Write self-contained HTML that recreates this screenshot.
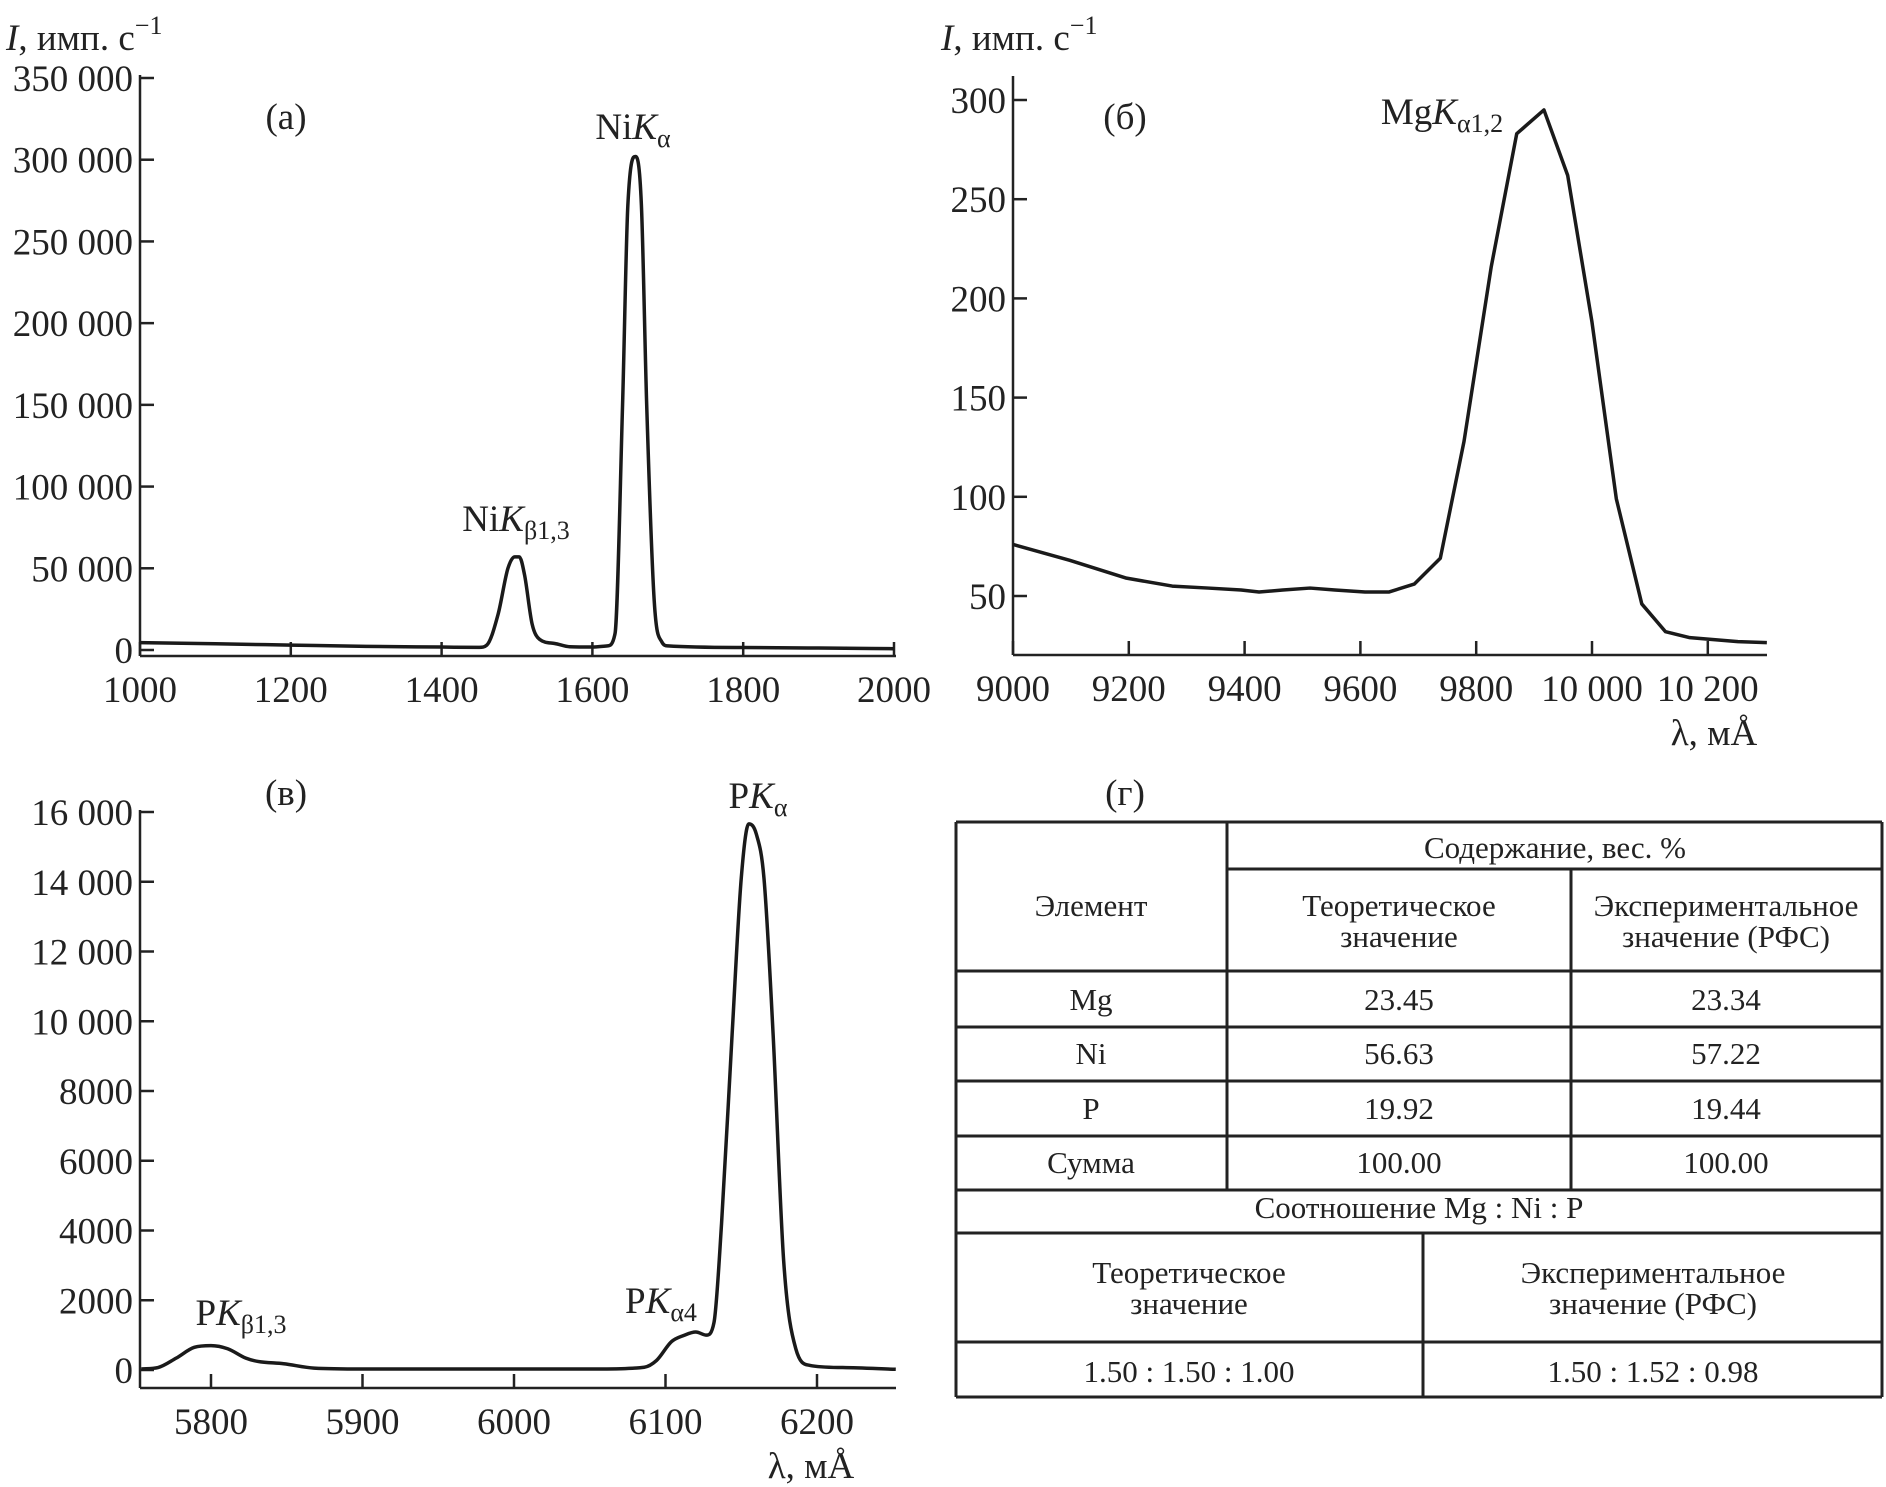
<!DOCTYPE html>
<html><head><meta charset="utf-8"><style>
html,body{margin:0;padding:0;background:#fff;}
svg{display:block;}
svg text{font-family:"Liberation Serif","DejaVu Serif",serif;}
</style></head><body>
<svg id="fig" width="1886" height="1487" viewBox="0 0 1886 1487" xmlns="http://www.w3.org/2000/svg" font-family="Liberation Serif, serif">
<g id="pa"></g>
<g id="pb"></g>
<g id="pc"></g>
<g id="pd"></g>
</svg>
<script>
// Panel (a) NiK spectrum
const aX=[1000,1100,1200,1300,1400,1450,1460,1475,1488,1497,1503,1510,1520,1530,1550,1570,1600,1620,1630,1640,1647,1657,1665,1672,1682,1692,1700,1800,1900,2000];
const aY=[4500,3800,3000,2200,1800,1600,3000,22000,50000,57000,57000,46000,16000,6500,4000,2000,1800,2500,10000,150000,272000,302000,272000,150000,30000,5000,2500,1500,1200,800];
const aYTicks=[0,50000,100000,150000,200000,250000,300000,350000];
const aYTickLabels=["0","50 000","100 000","150 000","200 000","250 000","300 000","350 000"];
const aXTicks=[1000,1200,1400,1600,1800,2000];
// Panel (б) MgK spectrum
const bX=[9000,9098,9196,9275,9337,9394,9425,9466,9513,9556,9608,9649,9693,9738,9779,9826,9870,9917,9958,10000,10042,10086,10127,10169,10252,10302];
const bY=[76,68,59,55,54,53,52,53,54,53,52,52,56,69,128,216,283,295,262,188,99,46,32,29,27,26.5];
const bYTicks=[50,100,150,200,250,300];
const bXTicks=[9000,9200,9400,9600,9800,10000,10200];
const bXTickLabels=["9000","9200","9400","9600","9800","10 000","10 200"];
// Panel (в) PK spectrum
const cX=[5754,5765,5777,5789,5800,5811,5823,5831,5848,5868,5900,6000,6058,6086,6094,6104,6112,6120,6127,6132,6137,6144,6150,6155,6160,6165,6171,6178,6186,6195,6217,6252];
const cY=[30,70,340,650,700,610,340,245,180,55,30,30,30,80,270,815,990,1090,1000,1360,4200,9650,14100,15660,15360,14100,9650,3130,610,135,70,20];
const cYTicks=[0,2000,4000,6000,8000,10000,12000,14000,16000];
const cYTickLabels=["0","2000","4000","6000","8000","10 000","12 000","14 000","16 000"];
const cXTicks=[5800,5900,6000,6100,6200];
// Table
const tblElements=["Mg","Ni","P","Сумма"];
const tblTheor=["23.45","56.63","19.92","100.00"];
const tblExp=["23.34","57.22","19.44","100.00"];
const ratioTheor="1.50 : 1.50 : 1.00";
const ratioExp="1.50 : 1.52 : 0.98";

const NS="http://www.w3.org/2000/svg";
const FONT='"Liberation Serif", "DejaVu Serif", serif';
function mk(tag,attrs,parent){const e=document.createElementNS(NS,tag);for(const k in attrs)e.setAttribute(k,attrs[k]);if(tag==='text')e.style.fontFamily=FONT;parent.appendChild(e);return e;}
function lin(d0,d1,r0,r1){return v=>r0+(v-d0)*(r1-r0)/(d1-d0);}
// monotone cubic (Fritsch-Carlson) path, no overshoot
function smoothPath(px,py){const n=px.length,d=[],m=new Array(n);
 for(let i=0;i<n-1;i++)d.push((py[i+1]-py[i])/(px[i+1]-px[i]));
 m[0]=d[0];m[n-1]=d[n-2];
 for(let i=1;i<n-1;i++){m[i]=(d[i-1]*d[i]<=0)?0:(d[i-1]+d[i])/2;}
 for(let i=0;i<n-1;i++){if(d[i]===0){m[i]=0;m[i+1]=0;continue;}const a=m[i]/d[i],b=m[i+1]/d[i],s=a*a+b*b;if(s>9){const t=3/Math.sqrt(s);m[i]=t*a*d[i];m[i+1]=t*b*d[i];}}
 let p="M"+px[0]+","+py[0];
 for(let i=0;i<n-1;i++){const h=(px[i+1]-px[i])/3;p+=" C"+(px[i]+h)+","+(py[i]+m[i]*h)+" "+(px[i+1]-h)+","+(py[i+1]-m[i+1]*h)+" "+px[i+1]+","+py[i+1];}
 return p;}

function panel(g,o){
  const sx=lin(o.x0,o.x1,o.px0,o.px1), sy=lin(o.y0,o.y1,o.py0,o.py1);
  const ax=mk('line',{x1:o.axLeft,y1:o.axTop,x2:o.axLeft,y2:o.axBot,stroke:'#222','stroke-width':2.5},g);
  
  
  const bx=mk('line',{x1:o.axLeft,y1:o.axBot,x2:o.axRight,y2:o.axBot,stroke:'#222','stroke-width':2.5},g);
  
  
  o.yTicks.forEach((v,i)=>{const y=sy(v);
    const t=mk('line',{x1:o.axLeft,y1:y,x2:o.axLeft+14,y2:y,stroke:'#222','stroke-width':2.5},g);
    
    
    const l=mk('text',{x:o.axLeft-7,y:y+13,'text-anchor':'end','font-size':37,fill:'#222'},g);
    l.textContent=o.yLabels?o.yLabels[i]:String(v);
    
    
  });
  o.xTicks.forEach((v,i)=>{const x=sx(v);
    const t=mk('line',{x1:x,y1:o.axBot,x2:x,y2:o.axBot-14,stroke:'#222','stroke-width':2.5},g);
    
    
    const l=mk('text',{x:x,y:o.axBot+46,'text-anchor':'middle','font-size':37,fill:'#222'},g);
    l.textContent=o.xLabels?o.xLabels[i]:String(v);
    
    
  });
  const px=o.xs.map(sx), py=o.ys.map(sy);
  const d=o.smooth?smoothPath(px,py):"M"+px.map((x,i)=>x+","+py[i]).join(" L");
  const p=mk('path',{d:d,fill:'none',stroke:'#1a1a1a','stroke-width':3.5,'stroke-linejoin':'round'},g);
  
  
}
function rich(g,x,y,parts,name,anchor){
  const t=mk('text',{x:x,y:y,'font-size':37,fill:'#222','text-anchor':anchor||'start'},g);
  
  
  parts.forEach(p=>{const s=mk('tspan',{},t);s.textContent=p[0];
    if(p[1]==='i')s.setAttribute('font-style','italic');
    if(p[1]==='sub'){s.setAttribute('font-size',26);s.setAttribute('baseline-shift','-8');}
    if(p[1]==='sup'){s.setAttribute('font-size',26);s.setAttribute('baseline-shift','16');}
  });
}
const pa=document.getElementById('pa'),pb=document.getElementById('pb'),pc=document.getElementById('pc'),pd=document.getElementById('pd');
panel(pa,{x0:1000,x1:2000,px0:140,px1:894,y0:0,y1:350000,py0:650,py1:78,axLeft:140,axTop:75,axBot:656,axRight:896,yTicks:aYTicks,yLabels:aYTickLabels,xTicks:aXTicks,xs:aX,ys:aY,smooth:true});
panel(pb,{x0:9000,x1:10000,px0:1013,px1:1592,y0:50,y1:300,py0:596,py1:100,axLeft:1013,axTop:76,axBot:655,axRight:1767,yTicks:bYTicks,xTicks:bXTicks,xLabels:bXTickLabels,xs:bX,ys:bY,smooth:false});
panel(pc,{x0:5800,x1:6200,px0:211,px1:817,y0:0,y1:16000,py0:1370,py1:812,axLeft:140,axTop:810,axBot:1388,axRight:896,yTicks:cYTicks,yLabels:cYTickLabels,xTicks:cXTicks,xs:cX,ys:cY,smooth:true});

rich(pa,6,50,[["I","i"],[", имп. с",""],["−1","sup"]],'y-axis-title');
rich(pb,941,50,[["I","i"],[", имп. с",""],["−1","sup"]],'y-axis-title');
rich(pb,1714,745,[["λ, мÅ",""]],'x-axis-title','middle');
rich(pc,811,1478,[["λ, мÅ",""]],'x-axis-title','middle');
rich(pa,286,129,[["(а)",""]],'panel-label','middle');
rich(pb,1125,129,[["(б)",""]],'panel-label','middle');
rich(pc,286,805,[["(в)",""]],'panel-label','middle');
rich(pd,1125,805,[["(г)",""]],'panel-label','middle');
rich(pa,633,139,[["Ni",""],["K","i"],["α","sub"]],'peak-label-nika','middle');
rich(pa,516,531,[["Ni",""],["K","i"],["β1,3","sub"]],'peak-label-nikb','middle');
rich(pb,1442,124,[["Mg",""],["K","i"],["α1,2","sub"]],'peak-label-mgka','middle');
rich(pc,758,808,[["P",""],["K","i"],["α","sub"]],'peak-label-pka','middle');
rich(pc,661,1313,[["P",""],["K","i"],["α4","sub"]],'peak-label-pka4','middle');
rich(pc,241,1325,[["P",""],["K","i"],["β1,3","sub"]],'peak-label-pkb','middle');

// table
function L(x1,y1,x2,y2){const l=mk('line',{x1:x1,y1:y1,x2:x2,y2:y2,stroke:'#222','stroke-width':3},pd);
 
 }
function T(x,y,s,name){const t=mk('text',{x:x,y:y+11,'text-anchor':'middle','font-size':31,fill:'#222'},pd);t.textContent=s;
 
 }
const tl=956,tr=1882,tt=822,tb=1397,c1=1227,c2=1571,c3=1423;
const rowB=[1027,1081,1136,1190];
L(tl,tt,tr,tt);L(tl,tb,tr,tb);L(tl,tt,tl,tb);L(tr,tt,tr,tb);
L(c1,tt,c1,1190);L(c2,869,c2,1190);L(c1,869,tr,869);L(tl,971,tr,971);
rowB.forEach(y=>L(tl,y,tr,y));L(tl,1233,tr,1233);L(tl,1342,tr,1342);L(c3,1233,c3,tb);
T(1555,847,"Содержание, вес. %",'table-group-header');
T(1091,905,"Элемент",'table-header-element');
T(1399,905,"Теоретическое",'table-header-theor');T(1399,936,"значение",'table-header-theor');
T(1726,905,"Экспериментальное",'table-header-exp');T(1726,936,"значение (РФС)",'table-header-exp');
const rowC=[999,1053,1108,1162];
tblElements.forEach((e,i)=>{T(1091,rowC[i],e,'table-cell-element');T(1399,rowC[i],tblTheor[i],'table-cell-theor');T(1726,rowC[i],tblExp[i],'table-cell-exp');});
T(1419,1207,"Соотношение Mg : Ni : P",'table-ratio-header');
T(1189,1272,"Теоретическое",'table-ratio-theor-header');T(1189,1303,"значение",'table-ratio-theor-header');
T(1653,1272,"Экспериментальное",'table-ratio-exp-header');T(1653,1303,"значение (РФС)",'table-ratio-exp-header');
T(1189,1371,ratioTheor,'table-ratio-theor');T(1653,1371,ratioExp,'table-ratio-exp');
</script>
</body></html>
